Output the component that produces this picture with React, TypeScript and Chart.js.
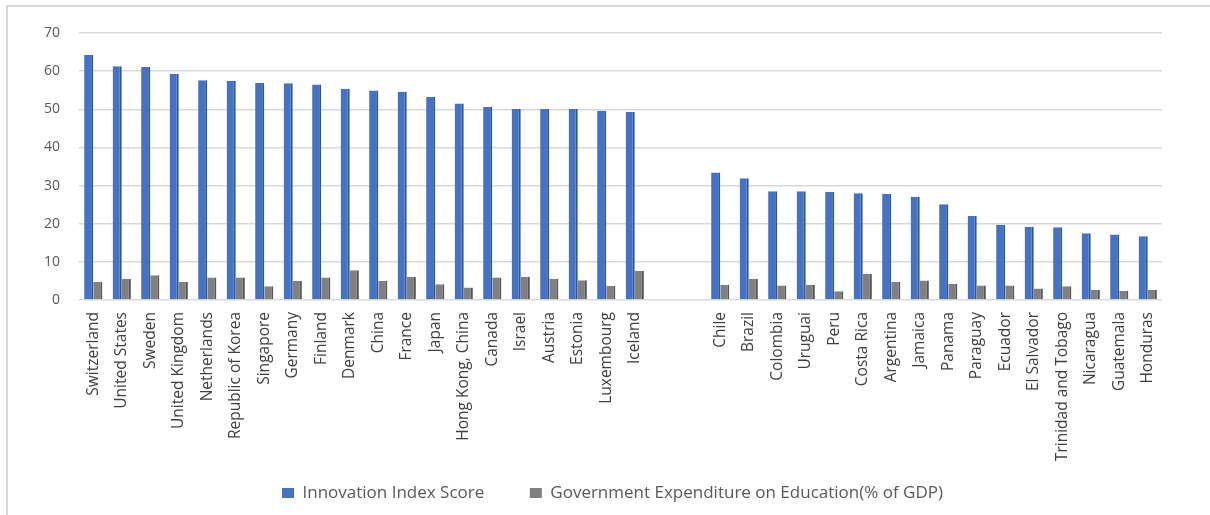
import React, { useEffect, useRef } from 'react';
import { Chart, registerables } from 'chart.js';

Chart.register(...registerables);

const categories: string[] = [
  'Switzerland', 'United States', 'Sweden', 'United Kingdom', 'Netherlands',
  'Republic of Korea', 'Singapore', 'Germany', 'Finland', 'Denmark', 'China',
  'France', 'Japan', 'Hong Kong, China', 'Canada', 'Israel', 'Austria',
  'Estonia', 'Luxembourg', 'Iceland',
  '', '',
  'Chile', 'Brazil', 'Colombia', 'Uruguai', 'Peru', 'Costa Rica', 'Argentina',
  'Jamaica', 'Panama', 'Paraguay', 'Ecuador', 'El Salvador',
  'Trinidad and Tobago', 'Nicaragua', 'Guatemala', 'Honduras',
];

const innovationScore: (number | null)[] = [
  64.2, 61.3, 61.1, 59.3, 57.6, 57.4, 56.9, 56.8, 56.5, 55.4, 54.9, 54.6,
  53.2, 51.5, 50.6, 50.1, 50.1, 50.1, 49.6, 49.3,
  null, null,
  33.4, 31.9, 28.5, 28.5, 28.4, 28.0, 27.8, 27.1, 25.1, 22.0, 19.7, 19.2,
  19.1, 17.5, 17.2, 16.7,
];

const eduExpenditure: (number | null)[] = [
  4.7, 5.6, 6.5, 4.7, 5.9, 5.9, 3.6, 5.0, 5.9, 7.8, 5.0, 6.0,
  4.1, 3.3, 5.9, 6.1, 5.6, 5.2, 3.7, 7.6,
  null, null,
  4.0, 5.5, 3.8, 4.0, 2.3, 6.8, 4.7, 5.1, 4.2, 3.8, 3.8, 3.0,
  3.6, 2.7, 2.4, 2.6,
];

const yTicks: number[] = [0, 10, 20, 30, 40, 50, 60, 70];

const FONT = "'Open Sans', 'DejaVu Sans', sans-serif";

// widen the label clip areas so tick labels may run outside their axis boxes
const extendLabelClip = {
  id: 'extendLabelClip',
  afterLayout(chart: any) {
    const x = chart.scales.x;
    if (x) x.bottom = chart.height;
    const y = chart.scales.y;
    if (y) y.left = 0;
  },
};

export default function App() {
  const ref = useRef<HTMLCanvasElement>(null);

  useEffect(() => {
    const canvas = ref.current;
    if (!canvas) return;
    const chart = new Chart(canvas, {
      type: 'bar',
      data: {
        labels: categories,
        datasets: [
          {
            label: 'Innovation Index Score',
            data: innovationScore,
            backgroundColor: '#4472C4',
            borderColor: '#2F5597',
            borderWidth: { top: 0, right: 2, bottom: 0, left: 0 },
            categoryPercentage: 0.64,
            barPercentage: 1.0,
          },
          {
            label: 'Government Expenditure on Education(% of GDP)',
            data: eduExpenditure,
            backgroundColor: '#808080',
            borderColor: '#555555',
            borderWidth: { top: 0, right: 2, bottom: 0, left: 0 },
            categoryPercentage: 0.64,
            barPercentage: 1.0,
          },
        ],
      },
      plugins: [extendLabelClip],
      options: {
        responsive: false,
        animation: false,
        layout: { padding: { left: 63, right: 48, top: 33, bottom: 3.5 } },
        scales: {
          x: {
            grid: { display: false, drawTicks: false },
            border: { display: false },
            ticks: {
              autoSkip: false,
              maxRotation: 90,
              minRotation: 90,
              padding: 12,
              color: '#404040',
              font: { family: FONT, size: 15.5 },
            },
            afterFit: (scale: any) => {
              scale.height = 139;
            },
          },
          y: {
            min: 0,
            max: 70,
            afterBuildTicks: (scale: any) => {
              scale.ticks = yTicks.map((v) => ({ value: v }));
            },
            grid: { color: '#d9d9d9', lineWidth: 1.5, drawTicks: false },
            border: { display: false },
            ticks: {
              padding: 19,
              color: '#595959',
              font: { family: FONT, size: 14 },
            },
            afterFit: (scale: any) => {
              scale.width = 16;
            },
          },
        },
        plugins: {
          legend: {
            position: 'bottom',
            align: 'center',
            labels: {
              boxWidth: 12,
              boxHeight: 10,
              padding: 45.5,
              color: '#595959',
              font: { family: FONT, size: 17 },
              generateLabels: (c: any) =>
                Chart.defaults.plugins.legend.labels
                  .generateLabels(c)
                  .map((item: any) => ({ ...item, lineWidth: 0, strokeStyle: item.fillStyle })),
            },
          },
          tooltip: { enabled: false },
        },
      },
    });
    return () => chart.destroy();
  }, []);

  return (
    <div
      style={{
        position: 'fixed',
        left: 0,
        top: 0,
        width: 1210,
        height: 515,
        background: '#ffffff',
        overflow: 'hidden',
      }}
    >
      <div
        style={{
          position: 'absolute',
          left: 6,
          top: 5,
          width: 1300,
          height: 600,
          borderLeft: '2px solid #d9d9d9',
          borderTop: '2px solid #d9d9d9',
        }}
      />
      <canvas
        ref={ref}
        width={1210}
        height={515}
        style={{ position: 'absolute', left: 0, top: 0, width: 1210, height: 515 }}
      />
    </div>
  );
}
